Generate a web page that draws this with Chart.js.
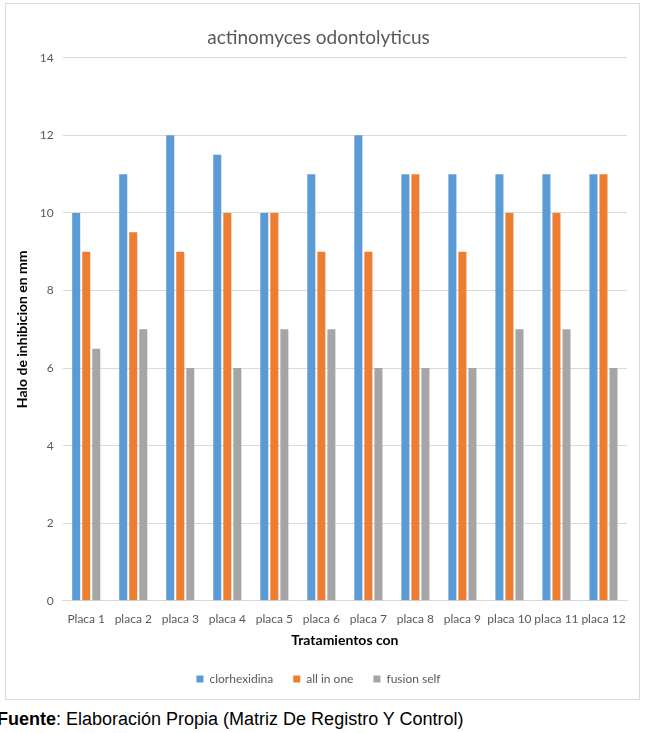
<!DOCTYPE html>
<html lang="es">
<head>
  <meta charset="UTF-8">
  <title>actinomyces odontolyticus</title>
  <script src="https://cdn.jsdelivr.net/npm/chart.js"></script>
  <style>
    body {
      margin: 0;
      padding: 0;
      background-color: #fff;
    }

    .chartBox {
      position: absolute;
      left: 5px;
      top: 3px;
      width: 633px;
      height: 695px;
      border: 1px solid #d9d9d9;
      background-color: #fff;
    }

    .caption {
      position: absolute;
      left: 0;
      top: 709px;
      font-family: 'Liberation Sans', Arial, sans-serif;
      font-size: 18px;
      color: #000;
      margin-left: -3px;
      white-space: nowrap;
    }
  </style>
</head>
<body>
  <div class="chartBox">
    <canvas id="chart" width="633" height="695"></canvas>
  </div>
  <div class="caption"><b>Fuente</b>: Elaboración Propia (Matriz De Registro Y Control)</div>
  <script>
    const categories = ['Placa 1', 'placa 2', 'placa 3', 'placa 4', 'placa 5', 'placa 6',
                        'placa 7', 'placa 8', 'placa 9', 'placa 10', 'placa 11', 'placa 12'];
    const clorhexidina = [10, 11, 12, 11.5, 10, 11, 12, 11, 11, 11, 11, 11];
    const allInOne = [9, 9.5, 9, 10, 10, 9, 9, 11, 9, 10, 10, 11];
    const fusionSelf = [6.5, 7, 6, 6, 7, 7, 6, 6, 6, 7, 7, 6];
    const yTicks = [0, 2, 4, 6, 8, 10, 12, 14];

    const font = "Lato, 'Open Sans', sans-serif";

    new Chart(document.getElementById('chart'), {
      type: 'bar',
      data: {
        labels: categories,
        datasets: [
          { label: 'clorhexidina', data: clorhexidina, backgroundColor: '#5b9bd5' },
          { label: 'all in one', data: allInOne, backgroundColor: '#ed7d31' },
          { label: 'fusion self', data: fusionSelf, backgroundColor: '#a5a5a5' }
        ]
      },
      options: {
        responsive: false,
        animation: false,
        datasets: {
          bar: { categoryPercentage: 0.64, barPercentage: 0.8 }
        },
        layout: { padding: { left: 4, right: 12, top: 12, bottom: 4 } },
        plugins: {
          title: {
            display: true,
            text: 'actinomyces odontolyticus',
            color: '#595959',
            font: { family: font, size: 19, weight: 'normal' },
            padding: { top: 10, bottom: 9 }
          },
          legend: {
            position: 'bottom',
            labels: {
              color: '#595959',
              font: { family: font, size: 12 },
              boxWidth: 7,
              boxHeight: 7,
              padding: 20
            }
          },
          tooltip: { enabled: false }
        },
        scales: {
          x: {
            grid: { display: false },
            border: { color: '#d9d9d9' },
            ticks: { color: '#595959', font: { family: font, size: 12 }, maxRotation: 0, autoSkip: false },
            title: {
              display: true,
              text: 'Tratamientos con',
              color: '#000',
              font: { family: font, size: 14, weight: 'bold' },
              padding: { top: 3 }
            }
          },
          y: {
            min: 0,
            max: 14,
            afterBuildTicks: (axis) => { axis.ticks = yTicks.map(v => ({ value: v })); },
            grid: { color: '#d9d9d9', drawTicks: false },
            border: { display: false },
            ticks: { color: '#595959', font: { family: font, size: 12 }, padding: 9 },
            title: {
              display: true,
              text: 'Halo de inhibicion en mm',
              color: '#000',
              font: { family: font, size: 14, weight: 'bold' },
              padding: { bottom: 0 }
            }
          }
        }
      }
    });
  </script>
</body>
</html>
